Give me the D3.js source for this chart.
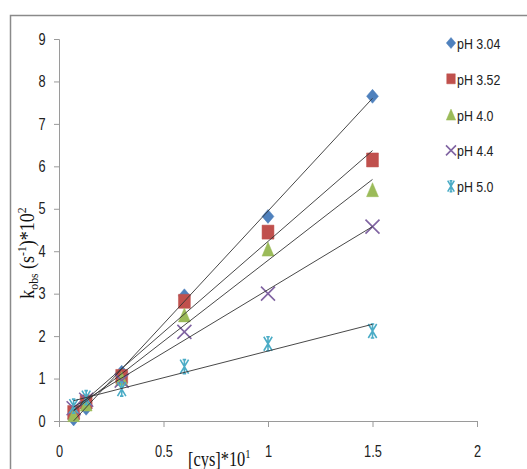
<!DOCTYPE html>
<meta charset="utf-8">
<style>
body { margin: 0; background: #fff; }
.tick text { font-family: "Liberation Sans", Arial, sans-serif; font-size: 16px; fill: #222; }
.legend text { font-family: "Liberation Sans", Arial, sans-serif; font-size: 15.5px; fill: #222; }
.title { font-family: "Liberation Serif", "Times New Roman", serif; font-size: 20px; fill: #111; }
</style>
<body>
<svg width="527" height="469"></svg>
<script src="https://d3js.org/d3.v7.min.js"></script>
<script>
// [cys]*10^1
var conc = [0.07, 0.13, 0.3, 0.6, 1.0, 1.5];
var pH304 = [0.05, 0.3, 1.15, 2.95, 4.82, 7.65];
var pH352 = [0.2, 0.45, 1.05, 2.82, 4.45, 6.15];
var pH40  = [0.15, 0.4, 1.0, 2.5, 4.05, 5.45];
var pH44  = [0.3, 0.5, 0.95, 2.1, 3.0, 4.58];
var pH50  = [0.35, 0.55, 0.75, 1.28, 1.82, 2.12];
var seriesNames = ["pH 3.04", "pH 3.52", "pH 4.0", " pH 4.4", "pH 5.0"];
var colors = ["#4F81BD", "#C0504D", "#9BBB59", "#8064A2", "#4BACC6"];
var markers = ["diamond", "square", "triangle", "x", "star"];
var xTicks = [0, 0.5, 1, 1.5, 2];
var yTicks = [0, 1, 2, 3, 4, 5, 6, 7, 8, 9];

var narrow = 0.8; // squeeze text to look like the narrow Calibri of the original

var series = [pH304, pH352, pH40, pH44, pH50].map(function(v, i) {
  return {name: seriesNames[i], color: colors[i], marker: markers[i],
          points: conc.map(function(c, j) { return {x: c, y: v[j]}; })};
});

var svg = d3.select("svg");
var x = d3.scaleLinear().domain([0, 2]).range([59, 477]);
var y = d3.scaleLinear().domain([0, 9]).range([421, 39]);

// outer frame
svg.append("rect")
    .attr("x", 10.5).attr("y", 15.5)
    .attr("width", 540).attr("height", 480)
    .attr("fill", "none").attr("stroke", "#8a8a8a").attr("stroke-width", 1.5);

var xAxis = svg.append("g")
    .attr("transform", "translate(0," + y(0) + ")")
    .call(d3.axisBottom(x).tickValues(xTicks).tickSize(6).tickPadding(19)
      .tickFormat(function(d) { return d; }));
xAxis.select(".domain").attr("stroke", "#9a9a9a").attr("d", "M55,0.5H" + (x(2) + 0.5));
xAxis.selectAll(".tick line").attr("stroke", "#9a9a9a");
xAxis.selectAll(".tick text").attr("transform", "scale(" + narrow + ",1)");

var yAxis = svg.append("g")
    .attr("transform", "translate(" + x(0) + ",0)")
    .call(d3.axisLeft(y).tickValues(yTicks).tickSize(5).tickPadding(10));
yAxis.select(".domain").attr("stroke", "#9a9a9a").attr("d", "M-5," + (y(9) + 0.5) + "H0.5V" + y(0));
yAxis.selectAll(".tick line").attr("stroke", "#9a9a9a");
yAxis.selectAll(".tick text").attr("text-anchor", "middle")
    .attr("x", -17 / narrow).attr("transform", "scale(" + narrow + ",1)");

// linear trendlines
function fit(pts) {
  var mx = d3.mean(pts, function(d) { return d.x; });
  var my = d3.mean(pts, function(d) { return d.y; });
  var sxy = d3.sum(pts, function(d) { return (d.x - mx) * (d.y - my); });
  var sxx = d3.sum(pts, function(d) { return (d.x - mx) * (d.x - mx); });
  var b = sxy / sxx;
  return function(v) { return my + b * (v - mx); };
}

function markerPath(type, s) {
  var p = d3.path();
  if (type == "diamond") {
    p.moveTo(0, -s); p.lineTo(s * 0.85, 0); p.lineTo(0, s); p.lineTo(-s * 0.85, 0); p.closePath();
  } else if (type == "square") {
    p.rect(-s * 0.85, -s, s * 1.7, s * 2);
  } else if (type == "triangle") {
    p.moveTo(0, -s); p.lineTo(s * 0.85, s); p.lineTo(-s * 0.85, s); p.closePath();
  } else if (type == "x") {
    p.moveTo(-s, -s); p.lineTo(s, s); p.moveTo(s, -s); p.lineTo(-s, s);
  } else {
    p.moveTo(-s * 0.6, -s); p.lineTo(s * 0.6, s); p.moveTo(s * 0.6, -s); p.lineTo(-s * 0.6, s);
    p.moveTo(0, -s); p.lineTo(0, s);
    p.moveTo(-s * 0.25, -s); p.lineTo(s * 0.25, -s);
    p.moveTo(-s * 0.25, s); p.lineTo(s * 0.25, s);
  }
  return p.toString();
}

function drawMarker(g, type, color, s) {
  var filled = type == "diamond" || type == "square" || type == "triangle";
  g.append("path")
    .attr("d", markerPath(type, s))
    .attr("fill", filled ? color : "none")
    .attr("stroke", color)
    .attr("stroke-width", filled ? 0.5 : 1.6);
}

series.forEach(function(s) {
  var g = svg.append("g");
  s.points.forEach(function(d) {
    drawMarker(g.append("g").attr("transform", "translate(" + x(d.x) + "," + y(d.y) + ")"),
      s.marker, s.color, 7);
  });
});

series.forEach(function(s) {
  var f = fit(s.points);
  var x0 = d3.min(conc), x1 = d3.max(conc);
  svg.append("line")
    .attr("x1", x(x0)).attr("y1", y(f(x0)))
    .attr("x2", x(x1)).attr("y2", y(f(x1)))
    .attr("stroke", "#333").attr("stroke-width", 0.9);
});

// legend
var legend = svg.append("g").attr("class", "legend");
series.forEach(function(s, i) {
  var row = legend.append("g").attr("transform", "translate(451," + (43 + i * 35.8) + ")");
  drawMarker(row.append("g"), s.marker, s.color, s.marker == "square" || s.marker == "x" ? 5 : 5.5);
  row.append("text").attr("transform", "translate(6,6) scale(" + narrow + ",1)").text(s.name);
});

// axis titles
var xt = svg.append("text").attr("class", "title")
    .attr("transform", "translate(188,466) scale(0.82,1)");
xt.append("tspan").text("[cys]*10");
xt.append("tspan").attr("dy", -8).attr("font-size", 13).text("1");

var yt = svg.append("text").attr("class", "title")
    .attr("transform", "translate(34,253) rotate(-90) scale(0.9,1)")
    .attr("text-anchor", "middle");
yt.append("tspan").text("k");
yt.append("tspan").attr("dy", 4).attr("font-size", 13).text("obs");
yt.append("tspan").attr("dy", -4).text(" (s");
yt.append("tspan").attr("dy", -8).attr("font-size", 13).text("-1");
yt.append("tspan").attr("dy", 8).text(")*10");
yt.append("tspan").attr("dy", -8).attr("font-size", 13).text("2");
</script>
</body>
